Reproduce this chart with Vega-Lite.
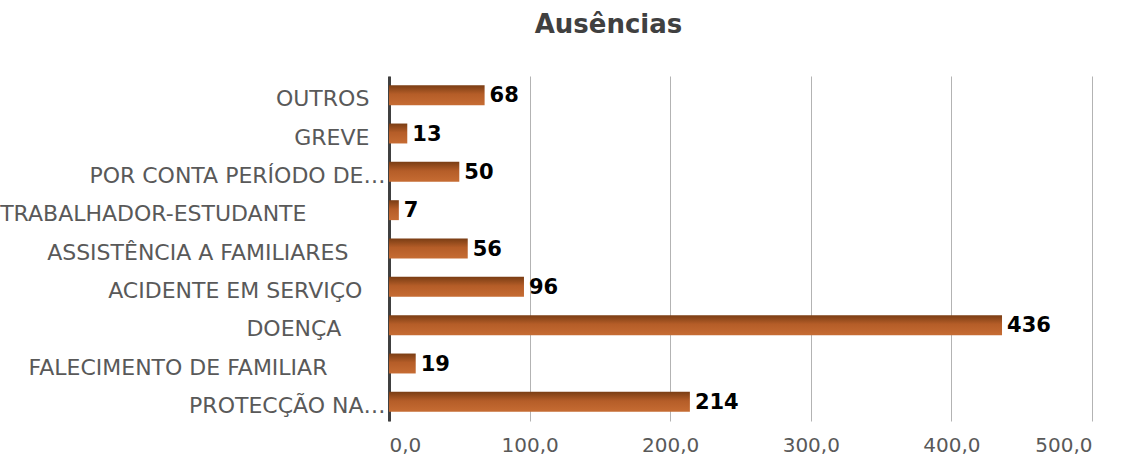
{
  "$schema": "https://vega.github.io/schema/vega-lite/v6.json",
  "width": 703,
  "height": 345,
  "autosize": "none",
  "padding": {"left": 389, "top": 76, "right": 35, "bottom": 42},
  "background": "white",
  "title": {
    "text": "Ausências",
    "font": "DejaVu Sans",
    "fontSize": 26,
    "fontWeight": "bold",
    "color": "#404040",
    "anchor": "middle",
    "dx": -132,
    "offset": 38
  },
  "data": {
    "values": [
      {"categoria": "OUTROS", "valor": 68},
      {"categoria": "GREVE", "valor": 13},
      {"categoria": "POR CONTA PERÍODO DE…", "valor": 50},
      {"categoria": "TRABALHADOR-ESTUDANTE", "valor": 7},
      {"categoria": "ASSISTÊNCIA A FAMILIARES", "valor": 56},
      {"categoria": "ACIDENTE EM SERVIÇO", "valor": 96},
      {"categoria": "DOENÇA", "valor": 436},
      {"categoria": "FALECIMENTO DE FAMILIAR", "valor": 19},
      {"categoria": "PROTECÇÃO NA…", "valor": 214}
    ]
  },
  "encoding": {
    "y": {
      "field": "categoria",
      "type": "nominal",
      "sort": null,
      "scale": {"paddingInner": 0, "paddingOuter": 0},
      "axis": {
        "title": null,
        "domainColor": "#404040",
        "domainWidth": 3,
        "ticks": false,
        "labelPadding": 4,
        "labelFont": "DejaVu Sans",
        "labelFontSize": 22,
        "labelColor": "#595959",
        "labelLimit": 0,
        "labelOffset": 4,
        "labelExpr": "datum.label == 'OUTROS' ? 'OUTROS\u2800' : datum.label == 'GREVE' ? 'GREVE\u2800' : datum.label == 'TRABALHADOR-ESTUDANTE' ? 'TRABALHADOR-ESTUDANTE\u00a0\u00a0\u00a0\u00a0\u00a0\u00a0\u00a0\u00a0\u00a0\u2800' : datum.label == 'ASSISTÊNCIA A FAMILIARES' ? 'ASSISTÊNCIA A FAMILIARES\u00a0\u00a0\u00a0\u2800' : datum.label == 'ACIDENTE EM SERVIÇO' ? 'ACIDENTE EM SERVIÇO\u00a0\u2800' : datum.label == 'DOENÇA' ? 'DOENÇA\u00a0\u00a0\u00a0\u00a0\u2800' : datum.label == 'FALECIMENTO DE FAMILIAR' ? 'FALECIMENTO DE FAMILIAR\u00a0\u00a0\u00a0\u00a0\u00a0\u00a0\u2800' : datum.label"
      }
    },
    "x": {
      "field": "valor",
      "type": "quantitative",
      "scale": {"domain": [0, 500], "nice": false},
      "axis": {
        "title": null,
        "domain": false,
        "ticks": false,
        "grid": true,
        "gridColor": "#b3b3b3",
        "gridWidth": 1,
        "values": [0, 100, 200, 300, 400, 500],
        "labelFont": "DejaVu Sans",
        "labelFontSize": 20,
        "labelColor": "#595959",
        "labelPadding": 14,
        "labelExpr": "replace(format(datum.value, '.1f'), '.', ',')"
      }
    }
  },
  "layer": [
    {
      "mark": {
        "type": "bar",
        "height": {"band": 0.52},
        "color": {
          "gradient": "linear",
          "x1": 0, "y1": 0, "x2": 0, "y2": 1,
          "stops": [
            {"offset": 0, "color": "#7a3d14"},
            {"offset": 0.45, "color": "#b55d28"},
            {"offset": 1, "color": "#c66c33"}
          ]
        }
      }
    },
    {
      "mark": {
        "type": "text",
        "align": "left",
        "baseline": "middle",
        "dx": 5,
        "dy": 1,
        "font": "DejaVu Sans",
        "fontSize": 21,
        "fontWeight": "bold",
        "color": "black"
      },
      "encoding": {"text": {"field": "valor", "type": "quantitative"}}
    }
  ],
  "config": {"view": {"stroke": null}}
}
